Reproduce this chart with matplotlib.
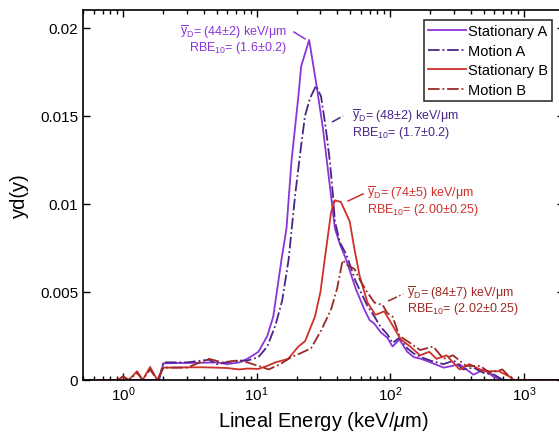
import matplotlib
matplotlib.use('Agg')
import matplotlib.pyplot as plt

plt.rcParams['font.family'] = ['Liberation Sans', 'DejaVu Sans']
plt.rcParams['mathtext.fontset'] = 'custom'
plt.rcParams['mathtext.rm'] = 'Liberation Sans'
plt.rcParams['mathtext.it'] = 'Liberation Sans:italic'

# lineal energy (keV/um) and yd(y)
x_sa = [0.5, 1.85, 2.0, 3.0, 4.0, 5.0, 6.0, 7.4, 8.5, 10.3, 12.0, 13.3, 15.3, 16.7, 18.2, 20.5, 21.5, 24.7,
        27.8, 31.3, 35.3, 38.5, 42, 46.4, 55, 64, 70, 76, 85, 95, 104, 117, 134, 150, 170, 200, 252, 290,
        330, 420, 500, 590, 700, 2000]
y_sa = [0, 0, 0.00095, 0.00097, 0.00098, 0.001, 0.0009, 0.001, 0.0012, 0.0016, 0.0025, 0.0036, 0.0068,
        0.0086, 0.0124, 0.0161, 0.0178, 0.0193, 0.0169, 0.0143, 0.0110, 0.0086, 0.0077, 0.0069, 0.0052,
        0.0040, 0.0034, 0.0032, 0.0027, 0.0024, 0.0019, 0.0023, 0.0016, 0.0013, 0.0012, 0.0010, 0.0007,
        0.0008, 0.0009, 0.0003, 0.0006, 0.0002, 0, 0]

x_ma = [0.5, 1.85, 2.0, 3.0, 4.4, 5.0, 5.9, 7.4, 8.5, 10.3, 12, 13.8, 15.5, 17.3, 19.4, 21.5, 23, 25.1,
        27.8, 30.3, 32.9, 35.3, 37.2, 38.5, 42, 47, 55, 67.5, 76, 85, 95, 104, 117, 134, 150, 170, 200,
        250, 300, 350, 420, 500, 600, 700, 2000]
y_ma = [0, 0, 0.001, 0.001, 0.00115, 0.0009, 0.001, 0.0011, 0.0011, 0.0013, 0.0019, 0.0031, 0.0045,
        0.0068, 0.0105, 0.0133, 0.0150, 0.0160, 0.0167, 0.0161, 0.0143, 0.0124, 0.0105, 0.0090, 0.0078,
        0.0071, 0.0056, 0.0042, 0.0036, 0.0030, 0.0026, 0.0021, 0.0024, 0.0018, 0.0015, 0.0013, 0.0011,
        0.0009, 0.0011, 0.0006, 0.0007, 0.0004, 0.0003, 0, 0]

x_sb = [0.5, 0.9, 1.0, 1.1, 1.27, 1.4, 1.59, 1.8, 2.0, 3, 4, 5, 6, 7.4, 8.5, 10.3, 12, 13.8, 17.2, 20.5,
        23, 27.3, 30, 32.5, 36, 38.5, 42.7, 49.7, 54, 59, 67.5, 77.4, 84, 90, 104, 120, 141, 167, 196,
        222, 264, 330, 392, 500, 650, 780, 850, 2000]
y_sb = [0, 0, 0.0002, 0, 0.0005, 0, 0.00074, 0, 0.0007, 0.00072, 0.00072, 0.0007, 0.00068, 0.0006,
        0.00065, 0.00063, 0.0008, 0.001, 0.0012, 0.0019, 0.0022, 0.0036, 0.005, 0.0070, 0.0095, 0.0102,
        0.0101, 0.0090, 0.0074, 0.0059, 0.0044, 0.0037, 0.0038, 0.0039, 0.0031, 0.0023, 0.0019, 0.0014,
        0.0016, 0.0012, 0.0014, 0.0006, 0.0009, 0.0005, 0.0005, 0.0002, 0, 0]

x_mb = [0.5, 0.9, 1.0, 1.1, 1.27, 1.4, 1.59, 1.8, 2.0, 3, 4.4, 5.5, 7, 8.5, 10.3, 12.3, 15, 18.2, 21,
        25.5, 30.3, 36, 40, 42.7, 44, 48, 54, 60, 67, 76, 84, 87, 95, 104, 117, 141, 167, 210, 250, 295,
        370, 470, 560, 690, 780, 850, 2000]
y_mb = [0, 0, 0.0002, 0, 0.0004, 0, 0.0006, 0, 0.0007, 0.0007, 0.0012, 0.001, 0.0011, 0.001, 0.0008,
        0.0006, 0.0009, 0.0013, 0.0015, 0.0018, 0.0028, 0.0040, 0.0052, 0.0063, 0.0068, 0.0065, 0.0063,
        0.0056, 0.0050, 0.0044, 0.0043, 0.0043, 0.0038, 0.0036, 0.0025, 0.0021, 0.0017, 0.0019, 0.0012,
        0.0014, 0.0008, 0.0008, 0.0004, 0.0006, 0.0002, 0, 0]

labels = ['Stationary A', 'Motion A', 'Stationary B', 'Motion B']
colors = ['#8A35D8', '#4A2585', '#D0302A', '#9B2A25']
styles = ['-', '-.', '-', '-.']

# annotations: (text, text pos, leader start, leader end, align)
notes = [
    ('$\\overline{\\mathrm{y}}_{\\mathrm{D}}$= (44±2) keV/μm\nRBE$_{10}$= (1.6±0.2)', (16.9, 0.01935), (19.0, 0.01975), (23.0, 0.01936), 'right'),
    ('$\\overline{\\mathrm{y}}_{\\mathrm{D}}$= (48±2) keV/μm\nRBE$_{10}$= (1.7±0.2)', (51.8, 0.01455), (36.6, 0.01464), (44.3, 0.01498), 'left'),
    ('$\\overline{\\mathrm{y}}_{\\mathrm{D}}$= (74±5) keV/μm\nRBE$_{10}$= (2.00±0.25)', (67.0, 0.01020), (48.3, 0.01016), (62.5, 0.01056), 'left'),
    ('$\\overline{\\mathrm{y}}_{\\mathrm{D}}$= (84±7) keV/μm\nRBE$_{10}$= (2.02±0.25)', (133.6, 0.00455), (96.3, 0.00448), (124.7, 0.00488), 'left'),
]

fig = plt.figure(figsize=(5.59, 4.39), dpi=100)
ax = fig.add_axes([83 / 559, 58 / 439, 481 / 559, 370 / 439])

series = [(x_sa, y_sa), (x_ma, y_ma), (x_sb, y_sb), (x_mb, y_mb)]
for (xs, ys), lab, c, ls in zip(series, labels, colors, styles):
    ax.plot(xs, ys, ls, color=c, lw=1.3, label=lab)

for (txt, tpos, p0, p1, ha), c, ls in zip(notes, colors, styles):
    ax.text(tpos[0], tpos[1], txt, color=c, fontsize=9, ha=ha, va='center', multialignment=ha, linespacing=0.95)
    ax.plot([p0[0], p1[0]], [p0[1], p1[1]], ls, color=c, lw=1.1)

ax.set_xscale('log')
ax.set_xlim(0.5, 2000)
ax.set_ylim(0, 0.021)
ax.set_yticks([0, 0.005, 0.01, 0.015, 0.02])
ax.set_yticklabels(['0', '0.005', '0.01', '0.015', '0.02'])
ax.tick_params(which='both', direction='in', top=True, right=True, labelsize=11, width=1)
ax.tick_params(which='major', length=5)
ax.tick_params(which='minor', length=3)
for s in ax.spines.values():
    s.set_linewidth(1.2)

ax.set_xlabel('Lineal Energy (keV/$\\mu$m)', fontsize=14.5, labelpad=4)
ax.set_ylabel('yd(y)', fontsize=14.5, labelpad=8)

leg = ax.legend(loc='upper right', bbox_to_anchor=(552 / 559, 1 - 21 / 439), bbox_transform=fig.transFigure,
                borderaxespad=0, fontsize=10.5, handlelength=2.6, handletextpad=0.1, labelspacing=0.38,
                borderpad=0.3, fancybox=False, framealpha=1)
leg.get_frame().set_edgecolor('#333333')
leg.get_frame().set_linewidth(1.2)

fig.savefig('out.png', dpi=100)
